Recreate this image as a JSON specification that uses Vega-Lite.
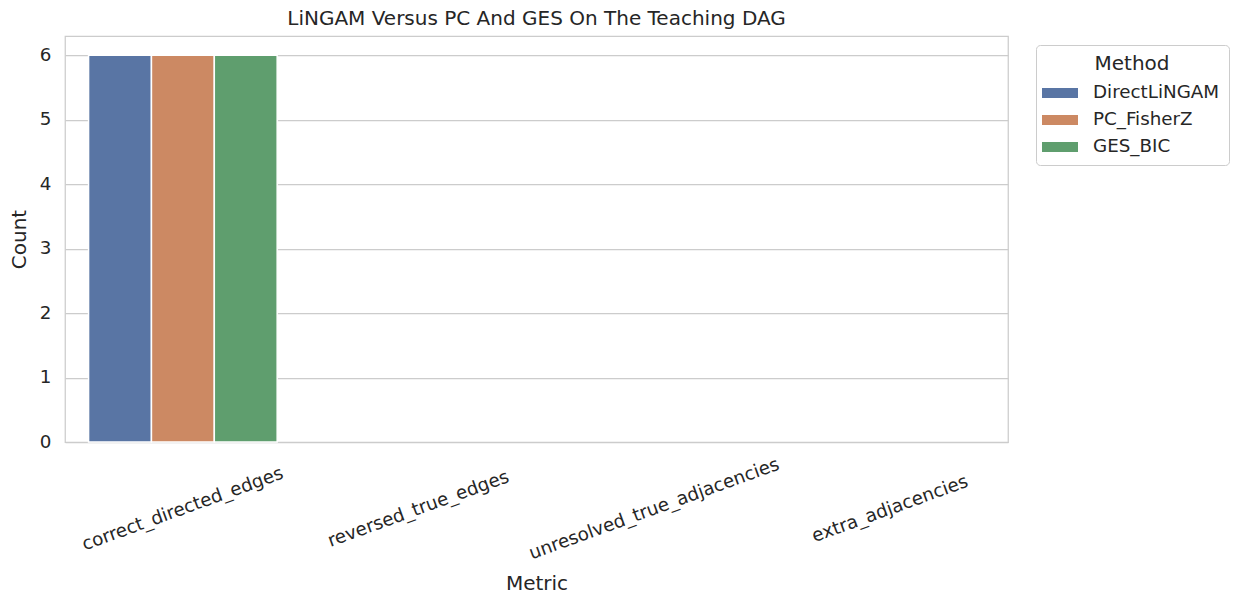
{
  "$schema": "https://vega.github.io/schema/vega-lite/v6.json",
  "autosize": "none",
  "width": 943,
  "height": 406,
  "padding": {"left": 65, "top": 36, "right": 232, "bottom": 162},
  "background": "white",
  "title": {
    "text": "LiNGAM Versus PC And GES On The Teaching DAG",
    "font": "DejaVu Sans",
    "fontSize": 20,
    "fontWeight": "normal",
    "color": "#262626",
    "offset": 7
  },
  "data": {
    "values": [
      {"Metric": "correct_directed_edges", "Method": "DirectLiNGAM", "Count": 6},
      {"Metric": "correct_directed_edges", "Method": "PC_FisherZ", "Count": 6},
      {"Metric": "correct_directed_edges", "Method": "GES_BIC", "Count": 6},
      {"Metric": "reversed_true_edges", "Method": "DirectLiNGAM", "Count": 0},
      {"Metric": "reversed_true_edges", "Method": "PC_FisherZ", "Count": 0},
      {"Metric": "reversed_true_edges", "Method": "GES_BIC", "Count": 0},
      {"Metric": "unresolved_true_adjacencies", "Method": "DirectLiNGAM", "Count": 0},
      {"Metric": "unresolved_true_adjacencies", "Method": "PC_FisherZ", "Count": 0},
      {"Metric": "unresolved_true_adjacencies", "Method": "GES_BIC", "Count": 0},
      {"Metric": "extra_adjacencies", "Method": "DirectLiNGAM", "Count": 0},
      {"Metric": "extra_adjacencies", "Method": "PC_FisherZ", "Count": 0},
      {"Metric": "extra_adjacencies", "Method": "GES_BIC", "Count": 0}
    ]
  },
  "mark": {"type": "bar", "stroke": "white"},
  "encoding": {
    "x": {
      "field": "Metric",
      "type": "nominal",
      "sort": ["correct_directed_edges", "reversed_true_edges", "unresolved_true_adjacencies", "extra_adjacencies"],
      "scale": {"paddingInner": 0.2, "paddingOuter": 0.1},
      "axis": {
        "title": "Metric",
        "labelAngle": -20,
        "labelAlign": "center",
        "labelBaseline": "middle",
        "labelPadding": 67,
        "labelLimit": 0,
        "ticks": false,
        "grid": false,
        "domain": false,
        "titlePadding": 11
      }
    },
    "xOffset": {
      "field": "Method",
      "type": "nominal",
      "sort": ["DirectLiNGAM", "PC_FisherZ", "GES_BIC"]
    },
    "y": {
      "field": "Count",
      "type": "quantitative",
      "scale": {"domain": [0, 6.3], "nice": false},
      "axis": {
        "title": "Count",
        "values": [0, 1, 2, 3, 4, 5, 6],
        "ticks": false,
        "domain": false,
        "labelPadding": 14,
        "titlePadding": 10
      }
    },
    "strokeWidth": {
      "condition": {"test": "datum.Count == 0", "value": 0},
      "value": 1.5
    },
    "color": {
      "field": "Method",
      "type": "nominal",
      "sort": ["DirectLiNGAM", "PC_FisherZ", "GES_BIC"],
      "scale": {
        "domain": ["DirectLiNGAM", "PC_FisherZ", "GES_BIC"],
        "range": ["#5975a4", "#cc8963", "#5f9e6e"]
      },
      "legend": {
        "title": "Method",
        "orient": "none",
        "legendX": 971,
        "legendY": 9,
        "symbolType": "M-1.2,-0.33L1.2,-0.33L1.2,0.33L-1.2,0.33Z",
        "symbolSize": 900,
        "symbolStrokeWidth": 0,
        "rowPadding": 3,
        "labelOffset": 18,
        "labelLimit": 0,
        "padding": 9,
        "titleAnchor": "middle",
        "titlePadding": 4,
        "strokeColor": "#cccccc",
        "cornerRadius": 4,
        "fillColor": "white"
      }
    }
  },
  "config": {
    "font": "DejaVu Sans",
    "view": {"stroke": "#cccccc", "strokeWidth": 1.25},
    "axis": {
      "labelFont": "DejaVu Sans",
      "titleFont": "DejaVu Sans",
      "labelFontSize": 18.3,
      "titleFontSize": 20,
      "titleFontWeight": "normal",
      "labelColor": "#262626",
      "titleColor": "#262626",
      "gridColor": "#cccccc",
      "gridWidth": 1.25
    },
    "legend": {
      "labelFont": "DejaVu Sans",
      "titleFont": "DejaVu Sans",
      "labelFontSize": 18.3,
      "titleFontSize": 20,
      "titleFontWeight": "normal",
      "labelColor": "#262626",
      "titleColor": "#262626"
    }
  }
}
